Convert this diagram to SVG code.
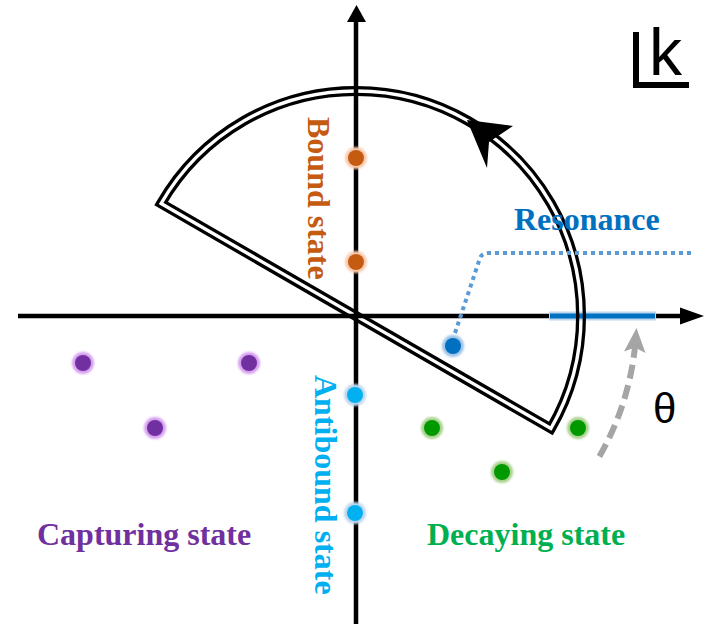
<svg xmlns="http://www.w3.org/2000/svg" width="708" height="624" viewBox="0 0 708 624">
<style>
.axis{stroke:#000;stroke-width:4.5;fill:none}
.lbl{font-family:"Liberation Serif","Times New Roman",serif;font-weight:bold;font-size:32px}
.sym{font-family:"Liberation Sans",Arial,sans-serif}
</style>
<defs>
<filter id="soft" x="-50%" y="-50%" width="200%" height="200%"><feGaussianBlur stdDeviation="1.3"/></filter>
<mask id="gap" maskUnits="userSpaceOnUse" x="0" y="0" width="708" height="624">
<rect x="0" y="0" width="708" height="624" fill="#fff"/>
<path d="M161.1,203.5 L550.9,428.5 A225,225 0 0 0 356,91 A225,225 0 0 0 161.1,203.5 Z" fill="none" stroke="#000" stroke-width="3.4" stroke-linejoin="miter"/>
</mask>
</defs>
<rect width="708" height="624" fill="#fff"/>

<g id="connectors">
<g id="axes">
<line class="axis" x1="18" y1="316" x2="682" y2="316"/>
<polygon points="680,307.5 704,316 680,324.5" fill="#000"/>
<line class="axis" x1="356" y1="624" x2="356" y2="20"/>
<polygon points="347,22 356.5,5 366,22" fill="#000"/>
</g>
<g id="resonance-bar">
<line x1="549" y1="316" x2="656" y2="316" stroke="#BDD7EE" stroke-width="9"/>
<line x1="550" y1="316" x2="655" y2="316" stroke="#0070C0" stroke-width="5"/>
</g>
<g id="contour">
<path d="M161.1,203.5 L550.9,428.5 A225,225 0 0 0 356,91 A225,225 0 0 0 161.1,203.5 Z" fill="none" stroke="#000" stroke-width="10" stroke-linejoin="miter" mask="url(#gap)"/>
<polygon points="467,120 513,126 489,142 487,168" fill="#000"/>
</g>
<g id="resonance-leader">
<path d="M455,333 L480,258 Q482,253 488,253 L692,253" fill="none" stroke="#5B9BD5" stroke-width="4" stroke-dasharray="4,4"/>
</g>
<g id="theta-arrow">
<path d="M599.4,456.5 A281,281 0 0 0 635,347" fill="none" stroke="#A5A5A5" stroke-width="6" stroke-dasharray="14,7"/>
<polygon points="636.5,328 645.5,353 635,347.5 624,351.5" fill="#A5A5A5"/>
</g>
</g>

<g id="bound-states">
<circle cx="356" cy="158" r="11" fill="#F8CBAD" filter="url(#soft)"/>
<circle cx="356" cy="158" r="8" fill="#C55A11"/>
<circle cx="356" cy="262" r="11" fill="#F8CBAD" filter="url(#soft)"/>
<circle cx="356" cy="262" r="8" fill="#C55A11"/>
<text class="lbl" fill="#C55A11" transform="translate(308,117) rotate(90)">Bound state</text>
</g>

<g id="antibound-states">
<circle cx="355" cy="395" r="11" fill="#BDD7EE" filter="url(#soft)"/>
<circle cx="355" cy="395" r="8" fill="#00B0F0"/>
<circle cx="355" cy="513" r="11" fill="#BDD7EE" filter="url(#soft)"/>
<circle cx="355" cy="513" r="8" fill="#00B0F0"/>
<text class="lbl" fill="#00B0F0" transform="translate(315,375) rotate(90)">Antibound state</text>
</g>

<g id="capturing-states">
<circle cx="83" cy="363" r="11" fill="#D59FEF" filter="url(#soft)"/>
<circle cx="83" cy="363" r="8" fill="#7030A0"/>
<circle cx="249" cy="363" r="11" fill="#D59FEF" filter="url(#soft)"/>
<circle cx="249" cy="363" r="8" fill="#7030A0"/>
<circle cx="155" cy="428" r="11" fill="#D59FEF" filter="url(#soft)"/>
<circle cx="155" cy="428" r="8" fill="#7030A0"/>
<text class="lbl" fill="#7030A0" x="37" y="545">Capturing state</text>
</g>

<g id="decaying-states">
<circle cx="432" cy="428" r="11" fill="#A9D18E" filter="url(#soft)"/>
<circle cx="432" cy="428" r="8" fill="#009900"/>
<circle cx="578" cy="428" r="11" fill="#A9D18E" filter="url(#soft)"/>
<circle cx="578" cy="428" r="8" fill="#009900"/>
<circle cx="502" cy="472" r="11" fill="#A9D18E" filter="url(#soft)"/>
<circle cx="502" cy="472" r="8" fill="#009900"/>
<text class="lbl" fill="#00B050" x="427" y="545">Decaying state</text>
</g>

<g id="resonance">
<circle cx="453" cy="346" r="11" fill="#9DC3E6" filter="url(#soft)"/>
<circle cx="453" cy="346" r="8" fill="#0070C0"/>
<text class="lbl" fill="#0070C0" x="514" y="230">Resonance</text>
</g>

<g id="theta-label">
<text class="sym" x="653" y="423" font-size="42" fill="#000">θ</text>
</g>

<g id="k-plane">
<path d="M636,32 V85 H689" fill="none" stroke="#000" stroke-width="6"/>
<text class="sym" x="649" y="75" font-size="66" fill="#000">k</text>
</g>
</svg>
